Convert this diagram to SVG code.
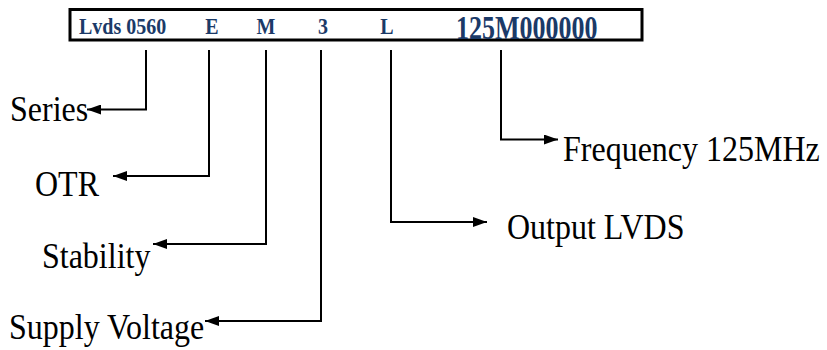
<svg xmlns="http://www.w3.org/2000/svg" width="827" height="350" viewBox="0 0 827 350">
<style>
.code{font-family:"Liberation Serif",serif;font-weight:bold;fill:#1b3a68;font-size:20px}
.big{font-size:26px}
.lbl{font-family:"Liberation Serif",serif;font-size:32px;fill:#000}
.ln{fill:none;stroke:#000;stroke-width:2}
</style>
<defs>
<marker id="ah" viewBox="0 0 14 10" refX="14" refY="5" markerWidth="14" markerHeight="10" markerUnits="userSpaceOnUse" orient="auto">
<path d="M0,0 L14,5 L0,10 Z" fill="#000"/>
</marker>
</defs>
<g id="code">
<rect x="70" y="9.5" width="572" height="30.5" fill="#fff" stroke="#000" stroke-width="3"/>
<text class="code" transform="translate(79,34) scale(1,1.12)">Lvds 0560</text>
<text class="code" transform="translate(212,34) scale(1,1.12)" text-anchor="middle">E</text>
<text class="code" transform="translate(266,34) scale(1,1.12)" text-anchor="middle">M</text>
<text class="code" transform="translate(323,34) scale(1,1.12)" text-anchor="middle">3</text>
<text class="code" transform="translate(387,34) scale(1,1.12)" text-anchor="middle">L</text>
<text class="code big" transform="translate(456,38.5) scale(1,1.32)">125M000000</text>
</g>
<g id="connectors">
<path class="ln" d="M146,50 V109.5 H87" marker-end="url(#ah)"/>
<path class="ln" d="M209,50 V176 H113" marker-end="url(#ah)"/>
<path class="ln" d="M266,50 V244 H153" marker-end="url(#ah)"/>
<path class="ln" d="M321,50 V321 H205" marker-end="url(#ah)"/>
<path class="ln" d="M391,50 V222 H487" marker-end="url(#ah)"/>
<path class="ln" d="M501,50 V139.5 H558" marker-end="url(#ah)"/>
</g>
<g id="series"><text class="lbl" transform="translate(10,121) scale(1,1.1)">Series</text></g>
<g id="otr"><text class="lbl" transform="translate(35,196) scale(1,1.1)">OTR</text></g>
<g id="stability"><text class="lbl" transform="translate(42,268) scale(1,1.1)">Stability</text></g>
<g id="supply"><text class="lbl" transform="translate(9,339) scale(1,1.1)">Supply Voltage</text></g>
<g id="output"><text class="lbl" transform="translate(507,239) scale(1,1.1)">Output LVDS</text></g>
<g id="frequency"><text class="lbl" transform="translate(563,161) scale(1,1.1)">Frequency 125MHz</text></g>
</svg>
